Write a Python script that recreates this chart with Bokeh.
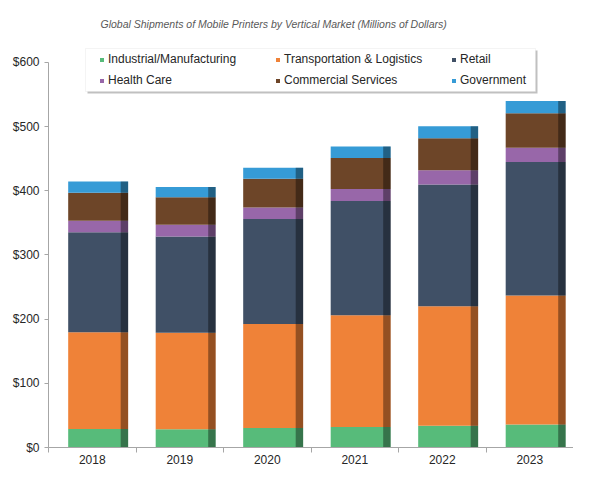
from bokeh.plotting import figure
from bokeh.models import (Range1d, FixedTicker, NumeralTickFormatter, Legend,
                          LegendItem, BoxAnnotation, ColumnDataSource)
from bokeh.embed import file_html
from bokeh.resources import INLINE

# ---- data ----
years = ["2018", "2019", "2020", "2021", "2022", "2023"]
industrial = [29, 28.5, 30.5, 32, 34, 36]
transport = [150.5, 150.5, 162, 174, 186, 201]
retail = [156, 150, 163.5, 178, 190, 208]
health = [18, 18, 18, 19, 22, 22]
commercial = [43.5, 43, 45, 48, 50, 54]
government = [17.5, 16, 17, 18, 18.5, 19]
series_names = ["Industrial/Manufacturing", "Transportation & Logistics", "Retail",
                "Health Care", "Commercial Services", "Government"]
y_ticks = [0, 100, 200, 300, 400, 500, 600]
title_text = "Global Shipments of Mobile Printers by Vertical Market (Millions of Dollars)"

# ---- styles ----
colors = ["#57bb7a", "#ef8238", "#405066", "#9867a9", "#6d4528", "#369bd6"]
FONT = "Liberation Sans"
BAR_L, BAR_R, SIDE = -0.275, 0.41, 0.325

idx = list(range(len(years)))
series = [industrial, transport, retail, health, commercial, government]
keys = ["s%d" % i for i in range(len(series))]
totals = [sum(v) for v in zip(*series)]
data = dict(x=[i + (BAR_L + BAR_R) / 2 for i in idx],
            xs=[i + (SIDE + BAR_R) / 2 for i in idx],
            total=totals)
for k, s in zip(keys, series):
    data[k] = s
src = ColumnDataSource(data)

p = figure(width=573, height=467, output_backend="svg", toolbar_location=None,
           x_range=Range1d(-0.5, len(years) - 0.5), y_range=Range1d(0, 640.5),
           min_border_left=48, min_border_right=0, min_border_top=36,
           min_border_bottom=20)
p.outline_line_color = None
p.grid.visible = False
p.background_fill_color = "white"

rs = p.vbar_stack(keys, x="x", width=BAR_R - BAR_L, source=src,
                  fill_color=colors, line_color=None)
p.vbar(x="xs", width=BAR_R - SIDE, top="total", bottom=0, source=src,
       fill_color="black", fill_alpha=0.38, line_color=None)

# x axis
p.xaxis.ticker = FixedTicker(ticks=idx, minor_ticks=[i - 0.5 for i in idx] + [len(idx) - 0.5])
p.xaxis.major_label_overrides = {i: y for i, y in zip(idx, years)}
p.xaxis.major_tick_out = 0
p.xaxis.major_tick_in = 0
p.xaxis.minor_tick_out = 5
p.xaxis.minor_tick_in = 0
p.xaxis.major_label_standoff = 2
# y axis
p.yaxis.ticker = FixedTicker(ticks=y_ticks)
p.yaxis.formatter = NumeralTickFormatter(format="$0")
p.yaxis.bounds = (0, 600)
p.yaxis.major_tick_out = 4
p.yaxis.major_tick_in = 0
p.yaxis.minor_tick_out = 0
p.yaxis.minor_tick_in = 0
p.yaxis.major_label_standoff = 5
for ax in (p.xaxis, p.yaxis):
    ax.axis_line_color = "#a6a6a6"
    ax.major_tick_line_color = "#a6a6a6"
    ax.minor_tick_line_color = "#a6a6a6"
    ax.major_label_text_font = FONT
    ax.major_label_text_font_size = "12px"
    ax.major_label_text_color = "#262626"

# title
p.title.text = title_text
p.title.align = "left"
p.title.offset = 52
p.title.standoff = 14
p.title.text_font = FONT
p.title.text_font_style = "italic"
p.title.text_font_size = "10.5px"
p.title.text_color = "#595959"

# legend box + shadow
p.add_layout(BoxAnnotation(left=39, right=489, top=397, bottom=354,
                           left_units="screen", right_units="screen",
                           top_units="screen", bottom_units="screen",
                           fill_color="#b0b0b0", fill_alpha=0.8, line_color=None,
                           editable=False))
p.add_layout(BoxAnnotation(left=37, right=487, top=399, bottom=356,
                           left_units="screen", right_units="screen",
                           top_units="screen", bottom_units="screen",
                           fill_color="white", fill_alpha=1.0,
                           line_color="#d9d9d9", line_width=1))
for c in range(3):
    items = [LegendItem(label=series_names[c], renderers=[rs[c]]),
             LegendItem(label=series_names[c + 3], renderers=[rs[c + 3]])]
    lg = Legend(items=items, location=(51 + 176 * c, 360), orientation="vertical",
                padding=0, margin=0, spacing=7, glyph_width=5, glyph_height=5,
                label_standoff=4, label_height=14, label_width=10,
                label_text_font=FONT, label_text_font_size="12px",
                label_text_color="#262626", border_line_color=None,
                background_fill_alpha=0)
    p.add_layout(lg, "center")

open("out.html", "w").write(file_html(p, INLINE))
